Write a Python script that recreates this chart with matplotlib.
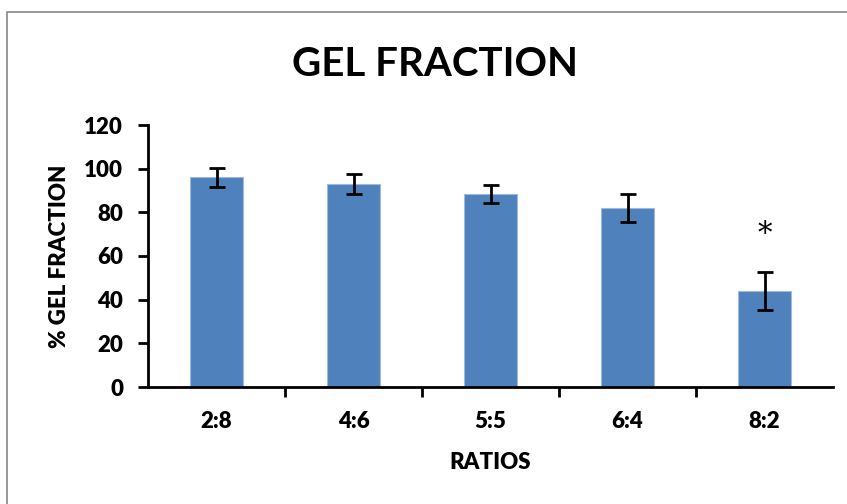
import numpy as np
import matplotlib.pyplot as plt
from matplotlib.patches import Rectangle

# data
ratios = ['2:8', '4:6', '5:5', '6:4', '8:2']
gel_fraction = [96, 93, 88.3, 82.2, 44]
errors = [4.3, 4.5, 4.2, 6.4, 8.7]
marks = ['', '', '', '', '*']

plt.rcParams['font.family'] = ['Lato', 'DejaVu Sans']

fig = plt.figure(figsize=(8.47, 5.04), dpi=100)
ax = fig.add_axes([148/847, 1 - 387/504, 685/847, 262/504])

x = np.arange(len(ratios))
ax.bar(x, gel_fraction, width=0.39, color='#4F81BD', edgecolor='#9DB9DD', linewidth=0.8,
       yerr=errors, error_kw=dict(ecolor='black', elinewidth=2, capsize=6, capthick=2))

for xi, m in zip(x, marks):
    if m:
        ax.text(xi, 70, m, ha='center', va='center', fontsize=21, family='DejaVu Serif')

ax.set_xlim(-0.5, len(ratios) - 0.5)
ax.set_ylim(0, 120)
ax.set_yticks(range(0, 121, 20))
ax.set_xticks(x)
ax.set_xticklabels(ratios, fontsize=16, fontweight='heavy')
ax.set_xticks(np.arange(0.5, len(ratios) - 0.5, 1), minor=True)
ax.tick_params(axis='x', which='major', length=0, pad=17)
ax.tick_params(axis='x', which='minor', length=7, width=2, direction='out')
ax.tick_params(axis='y', length=7, width=2, labelsize=16, pad=11)
for lab in ax.get_yticklabels():
    lab.set_fontweight('heavy')

for s in ['top', 'right']:
    ax.spines[s].set_visible(False)
for s in ['left', 'bottom']:
    ax.spines[s].set_linewidth(2)

ax.set_ylabel('% GEL FRACTION', fontsize=16, fontweight='heavy', labelpad=10)
ax.set_xlabel('RATIOS', fontsize=16, fontweight='heavy', labelpad=15)
fig.text(435/847, 1 - 65/504, 'GEL FRACTION', ha='center', va='center',
         fontsize=29, fontweight='bold')

# chart border
fig.patches.append(Rectangle((7/847, -0.1), 1.0, 1 - 12/504 + 0.1, transform=fig.transFigure,
                             fill=False, edgecolor='#888888', linewidth=1.2))

fig.savefig('out.png', dpi=100)
